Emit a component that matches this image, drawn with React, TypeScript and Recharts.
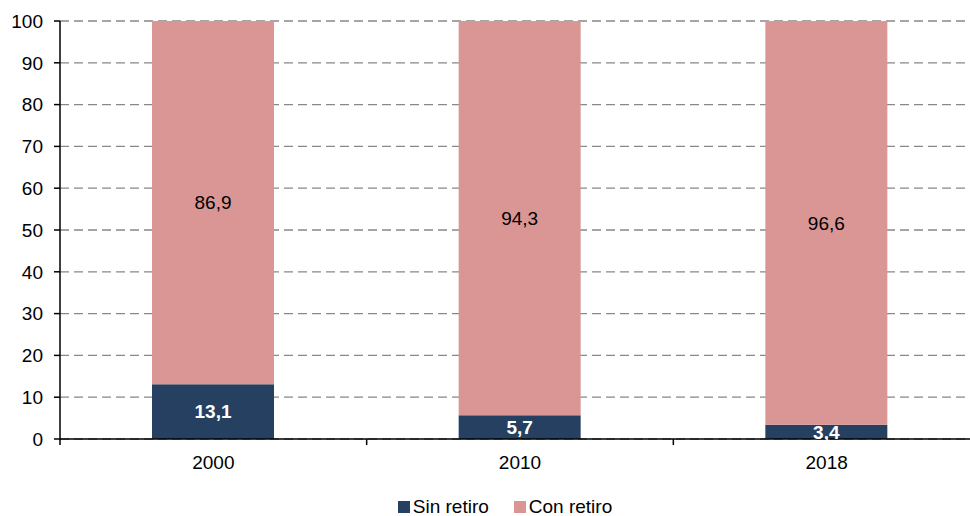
import React from 'react'
import { BarChart, Bar, XAxis, YAxis, CartesianGrid, Legend, LabelList } from 'recharts'

const years = ['2000', '2010', '2018']
const sinRetiro = [13.1, 5.7, 3.4]
const conRetiro = [86.9, 94.3, 96.6]
const yTicks = [0, 10, 20, 30, 40, 50, 60, 70, 80, 90, 100]
const seriesOrder = ['Sin retiro', 'Con retiro']

const NAVY = '#264062'
const PINK = '#D99694'
const FONT = '"Liberation Sans", Arial, sans-serif'

const CHART_W = 980
const CHART_H = 516
const Y_AXIS_W = 60
const TOP = 21
const X_AXIS_H = 59
const BAND = (CHART_W - Y_AXIS_W) / years.length

const data = years.map((year, i) => ({ year, sin: sinRetiro[i], con: conRetiro[i] }))

const fmt = (v: any) => String(v).replace('.', ',')

const XTick = ({ x, y, payload, index }: any) => {
  const half = BAND / 2
  const axisY = y - 17
  return (
    <g>
      <text x={x} y={y} dy="0.71em" textAnchor="middle" fill="#000" fontSize={19} fontFamily={FONT}>
        {payload.value}
      </text>
      {index === 0 && (
        <line x1={x - half} x2={x - half} y1={axisY} y2={axisY + 6} stroke="#000" strokeWidth={1.5} />
      )}
      <line x1={x + half} x2={x + half} y1={axisY} y2={axisY + 6} stroke="#000" strokeWidth={1.5} />
    </g>
  )
}

const LegendContent = ({ payload }: any) => {
  const items = [...(payload || [])].sort(
    (a: any, b: any) => seriesOrder.indexOf(a.value) - seriesOrder.indexOf(b.value)
  )
  return (
    <div style={{ display: 'flex', justifyContent: 'center', height: 18, lineHeight: '18px' }}>
      {items.map((item: any, i: number) => (
        <div key={item.value} style={{ display: 'flex', alignItems: 'center', marginLeft: i ? 25 : 0 }}>
          <span style={{ width: 12, height: 12, background: item.color, marginRight: 3, display: 'inline-block' }} />
          <span style={{ color: '#000', fontSize: 19, fontFamily: FONT }}>{item.value}</span>
        </div>
      ))}
    </div>
  )
}

export default function App() {
  return (
    <div style={{ position: 'absolute', left: 0, top: 0, width: 970, height: 516, overflow: 'hidden', background: '#fff' }}>
      <BarChart
        width={CHART_W}
        height={CHART_H}
        data={data}
        margin={{ top: TOP, right: 0, left: 0, bottom: 0 }}
        barSize={122}
      >
        <CartesianGrid vertical={false} stroke="#888" strokeDasharray="9 5" strokeWidth={1.3} />
        <XAxis
          dataKey="year"
          height={X_AXIS_H}
          tickLine={false}
          tickSize={6}
          tickMargin={11}
          axisLine={{ stroke: '#000', strokeWidth: 1.5 }}
          tick={<XTick />}
          interval={0}
        />
        <YAxis
          width={Y_AXIS_W}
          domain={[0, 100]}
          ticks={yTicks}
          interval={0}
          tickSize={6}
          tickMargin={11}
          axisLine={{ stroke: '#000', strokeWidth: 1.5 }}
          tickLine={{ stroke: '#000', strokeWidth: 1.5 }}
          tick={{ fill: '#000', fontSize: 19, fontFamily: FONT }}
        />
        <Legend
          verticalAlign="bottom"
          content={<LegendContent />}
          wrapperStyle={{ left: 0, bottom: 0, width: 1010 }}
        />
        <Bar dataKey="sin" name="Sin retiro" stackId="a" fill={NAVY} isAnimationActive={false}>
          <LabelList
            dataKey="sin"
            position="center"
            formatter={fmt}
            fill="#fff"
            fontWeight="bold"
            fontSize={19}
            fontFamily={FONT}
          />
        </Bar>
        <Bar dataKey="con" name="Con retiro" stackId="a" fill={PINK} isAnimationActive={false}>
          <LabelList
            dataKey="con"
            position="center"
            formatter={fmt}
            fill="#000"
            fontSize={19}
            fontFamily={FONT}
          />
        </Bar>
      </BarChart>
    </div>
  )
}
